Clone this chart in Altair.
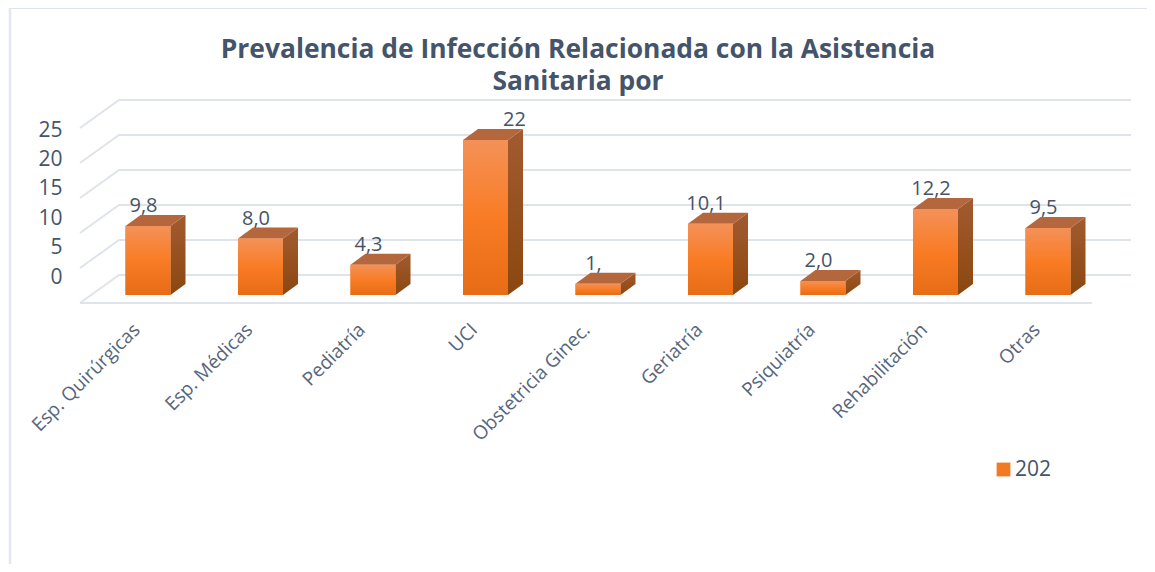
import json
import altair as alt
import pandas as pd

title_lines = ["Prevalencia de Infección Relacionada con la Asistencia", "Sanitaria por"]
categories = ["Esp. Quirúrgicas", "Esp. Médicas", "Pediatría", "UCI", "Obstetricia Ginec.",
              "Geriatría", "Psiquiatría", "Rehabilitación", "Otras"]
values = [9.8, 8.0, 4.3, 22.0, 1.6, 10.1, 2.0, 12.2, 9.5]
value_labels = ["9,8", "8,0", "4,3", "22", "1,", "10,1", "2,0", "12,2", "9,5"]
series_name = "202"
y_ticks = [0, 5, 10, 15, 20, 25]
grid_values = [0, 5, 10, 15, 20, 25]

TEXT = "#44546a"
GRID = "#dfe3ea"
FRAME = "#e3e7f0"
FONT = "Open Sans"

# scale geometry (plot area 66..1140 x 90..310 in page pixels)
W, H = 1074, 220
STEP, X0 = 112.5, 148 - 66        # pixels per category, first centre inside plot
UNIT = 7.05                       # pixels per value unit
BASE = 295 - 90                   # pixel row of value 0 inside plot
xdom = [-X0 / STEP, (W - X0) / STEP]
ydom = [(BASE - H) / UNIT, BASE / UNIT]
HALF = 22.5 / STEP
DX, DY = 15 / STEP, 11 / UNIT     # bar depth
GDX, GDY = 39 / STEP, 28 / UNIT   # floor depth
GX = (80 - 148) / STEP
GXR = (1092 - 148) / STEP
G0 = -8 / UNIT

X = alt.Scale(domain=xdom, nice=False, zero=False)
Y = alt.Scale(domain=ydom, nice=False, zero=False)

bars = pd.DataFrame({"i": range(len(values)), "v": values, "lab": value_labels, "s": series_name})
bars["x0"] = bars.i - HALF
bars["x1"] = bars.i + HALF
bars["z"] = 0.0

side, top = [], []
for i, v in enumerate(values):
    side += [dict(i=i, x=i + HALF, y=v, y2=0.0),
             dict(i=i, x=i + HALF + DX, y=v + DY, y2=DY)]
    top += [dict(i=i, x=i - HALF, y=v, y2=v),
            dict(i=i, x=i - HALF + DX, y=v + DY, y2=v),
            dict(i=i, x=i + HALF, y=v + DY, y2=v),
            dict(i=i, x=i + HALF + DX, y=v + DY, y2=v + DY)]

grid = []
for k, g in enumerate(grid_values):
    base = G0 + g * 35 / 5 / UNIT
    grid += [dict(k=k, o=0, x=GX, y=base),
             dict(k=k, o=1, x=GX + GDX, y=base + GDY),
             dict(k=k, o=2, x=GXR + GDX, y=base + GDY)]
floor = [dict(k=90, o=0, x=GX, y=G0), dict(k=90, o=1, x=GXR, y=G0)]

gridc = alt.Chart(pd.DataFrame(grid + floor)).mark_line(color=GRID, strokeWidth=2).encode(
    x=alt.X("x:Q", scale=X, title=None, axis=alt.Axis(
        values=list(range(len(categories))),
        labelExpr=json.dumps(categories) + "[datum.value]",
        labelAngle=-45, labelFont=FONT, labelFontSize=19, labelColor="#56667c",
        labelPadding=10, labelOffset=-18, labelOverlap=False, labelFlush=False, labelBound=False,
        domain=False, ticks=False, grid=False)),
    y=alt.Y("y:Q", scale=Y, axis=None),
    detail="k:N", order="o:Q")


def grad(c1, c2, c3=None):
    stops = [alt.GradientStop(offset=0, color=c1)]
    if c3:
        stops += [alt.GradientStop(offset=0.5, color=c2), alt.GradientStop(offset=1, color=c3)]
    else:
        stops += [alt.GradientStop(offset=1, color=c2)]
    return alt.Gradient(gradient="linear", x1=0, x2=0, y1=0, y2=1, stops=stops)


legend_bar = alt.Chart(bars).mark_bar().encode(
    x=alt.X("x0:Q", scale=X), x2="x1:Q",
    y=alt.Y("v:Q", scale=Y, axis=None), y2="z:Q",
    color=alt.Color("s:N", title=None, scale=alt.Scale(range=["#f27a22"]), legend=alt.Legend(
        orient="none", legendX=993 - 8 - 58, legendY=459 - 90, symbolType="square", symbolSize=190,
        labelOffset=1, labelFont=FONT, labelFontSize=21, labelColor=TEXT, symbolStrokeWidth=0)))

front = alt.Chart(bars).mark_bar(color=grad("#f49158", "#f97c25", "#e66c15")).encode(
    x=alt.X("x0:Q", scale=X), x2="x1:Q",
    y=alt.Y("v:Q", scale=Y, axis=None), y2="z:Q")

side_c = alt.Chart(pd.DataFrame(side)).mark_area(color=grad("#a25b30", "#8b4710")).encode(
    x=alt.X("x:Q", scale=X), y=alt.Y("y:Q", scale=Y, axis=None), y2="y2:Q", detail="i:N")
top_c = alt.Chart(pd.DataFrame(top)).mark_area(color="#b4673d").encode(
    x=alt.X("x:Q", scale=X), y=alt.Y("y:Q", scale=Y, axis=None), y2="y2:Q", detail="i:N")

lab_kw = dict(font=FONT, fontSize=20, color=TEXT, baseline="middle", align="center")
lab_enc = dict(x=alt.X("i:Q", scale=X), y=alt.Y("v:Q", scale=Y, axis=None), text="lab:N")
labels = alt.Chart(bars).transform_filter("datum.i != 3").mark_text(dx=-4.5, dy=-20, **lab_kw).encode(**lab_enc)
label_uci = alt.Chart(bars).transform_filter("datum.i == 3").mark_text(dx=29, dy=-20, **lab_kw).encode(**lab_enc)

# value axis as drawn in the reference: its own scale, not aligned with the gridlines
AX_UNIT = 147 / 25
AX0 = 277 - 90
ax_scale = alt.Scale(domain=[(AX0 - H) / AX_UNIT, AX0 / AX_UNIT], nice=False, zero=False)
axis_layer = alt.Chart(pd.DataFrame({"t": y_ticks})).mark_point(opacity=0).encode(
    y=alt.Y("t:Q", scale=ax_scale, title=None, axis=alt.Axis(
        orient="left", values=y_ticks, labelFont=FONT, labelFontSize=21, labelColor=TEXT,
        labelPadding=4, domain=False, ticks=False, grid=False)))

frame_top = alt.Chart(pd.DataFrame({"a": [0]})).mark_rule(color=GRID, strokeWidth=2).encode(
    x=alt.value(10 - 66), x2=alt.value(1147 - 66), y=alt.value(8 - 90))
frame_left = alt.Chart(pd.DataFrame({"a": [0]})).mark_rule(color=FRAME, strokeWidth=2.5).encode(
    x=alt.value(10 - 66), y=alt.value(8 - 90), y2=alt.value(564 - 90))

title_df = pd.DataFrame({"t": title_lines, "n": [0, 1]})
title_kw = dict(font=FONT, fontSize=26.4, fontWeight="bold", color=TEXT, align="center", baseline="middle")
title_1 = alt.Chart(title_df).transform_filter("datum.n == 0").mark_text(**title_kw).encode(
    x=alt.value(578 - 66), y=alt.value(50 - 90), text="t:N")
title_2 = alt.Chart(title_df).transform_filter("datum.n == 1").mark_text(**title_kw).encode(
    x=alt.value(578 - 66), y=alt.value(82 - 90), text="t:N")

main = alt.layer(gridc, legend_bar, side_c, top_c, front, labels, label_uci,
                 frame_top, frame_left, title_1, title_2)

chart = alt.layer(main, axis_layer).resolve_scale(y="independent").properties(
    width=W, height=H,
    padding={"left": 58, "top": 82, "right": 7, "bottom": 254},
    autosize=alt.AutoSizeParams(type="none"),
    background="white",
).configure_view(stroke=None)

chart.save("out.html", embed_options={"renderer": "svg", "actions": False})
